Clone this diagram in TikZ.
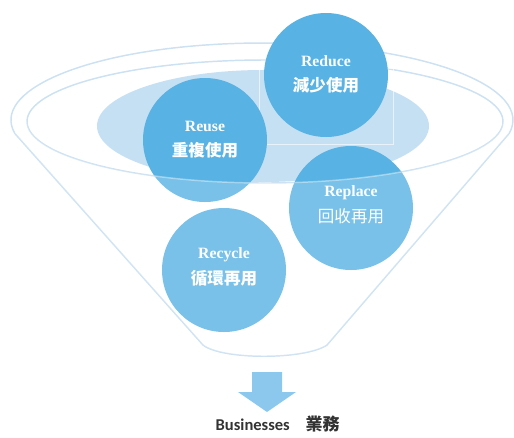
\documentclass[tikz,border=0pt]{standalone}
\usepackage{fontspec}
\setmainfont{Liberation Serif}
\newfontfamily\cjkfont{Noto Sans CJK TC}
\newfontfamily\bizfont{Carlito}
\usetikzlibrary{positioning}
\definecolor{rimblue}{HTML}{CCE1F2}
\definecolor{bowlblue}{HTML}{C6E0F3}
\definecolor{deepblue}{HTML}{58B2E3}
\definecolor{arrowblue}{HTML}{8CC8EE}
\definecolor{darktext}{HTML}{333333}

\begin{document}
\begin{tikzpicture}[x=0.75pt,y=-0.75pt,
					rim/.style={draw=rimblue, line width=1.1pt},
					bubble/.style={circle, fill=deepblue, minimum size=93pt, inner sep=0pt},
					entitle/.style={text=white, font=\fontsize{11.8}{12}\selectfont\bfseries},
					zhtitle/.style={text=white, font=\fontsize{12.4}{13}\selectfont\cjkfont\bfseries},
					zhlight/.style={text=white, font=\fontsize{12.4}{13}\selectfont\cjkfont},
					biztext/.style={text=darktext, font=\fontsize{12.4}{13}\selectfont\bizfont\bfseries}]
    \useasboundingbox (0,0) rectangle (514,437);
    % Funnel
    \draw[rim] (14.8,133.4) arc[start angle=170, end angle=370, x radius=251, y radius=77]
        -- (327,345) .. controls (305,360) and (222,360) .. (203,345) -- cycle;
    \draw[rim] (265,121.5) ellipse[x radius=238, y radius=61.5];
    \fill[bowlblue] (263,126) ellipse[x radius=166, y radius=56];
    \draw[white, opacity=0.6, line width=0.4pt] (259,68) rectangle (393,144);
    % Place nodes
    \node [bubble] (reduce) at (326,75) {};
    \node [bubble] (reuse) at (205,140) {};
    \node [bubble] (replace) at (351,208) {};
    \node [bubble] (recycle) at (224,270) {};
    % Funnel body over the bubbles
    \fill[white, opacity=0.2] (14.8,133.4) -- (203,345) .. controls (222,360) and (305,360) .. (327,345)
        -- (509,133.4) -- (503,121.5) arc[start angle=0, end angle=180, x radius=238, y radius=61.5] -- cycle;
    \begin{scope}
        \clip (reuse.center) circle[radius=62] (replace.center) circle[radius=62];
        \draw[white, opacity=0.4, line width=1.1pt] (503,121.5) arc[start angle=0, end angle=180, x radius=238, y radius=61.5];
    \end{scope}
    % Labels
    \node [entitle] (reduceen) at (326,61) {Reduce};
    \node [zhtitle] (reducezh) at (326,85) {減少使用};
    \node [entitle] (reuseen) at (205,126) {Reuse};
    \node [zhtitle] (reusezh) at (205,150) {重複使用};
    \node [entitle] (replaceen) at (351,193) {Replace};
    \node [zhlight] (replacezh) at (351,216) {回收再用};
    \node [entitle] (recycleen) at (224,255) {Recycle};
    \node [zhtitle] (recyclezh) at (224,278) {循環再用};
    % Arrow
    \fill[arrowblue] (252,372) -- (282,372) -- (282,392) -- (296,392) -- (267,412) -- (238,392) -- (252,392) -- cycle;
    \node [biztext, anchor=base west] (biz) at (211,430) {Businesses};
    \node [text=darktext, font=\fontsize{12.75}{13}\selectfont\cjkfont\bfseries, anchor=base west] (yewu) at (301,430) {業務};
\end{tikzpicture}
\end{document}
